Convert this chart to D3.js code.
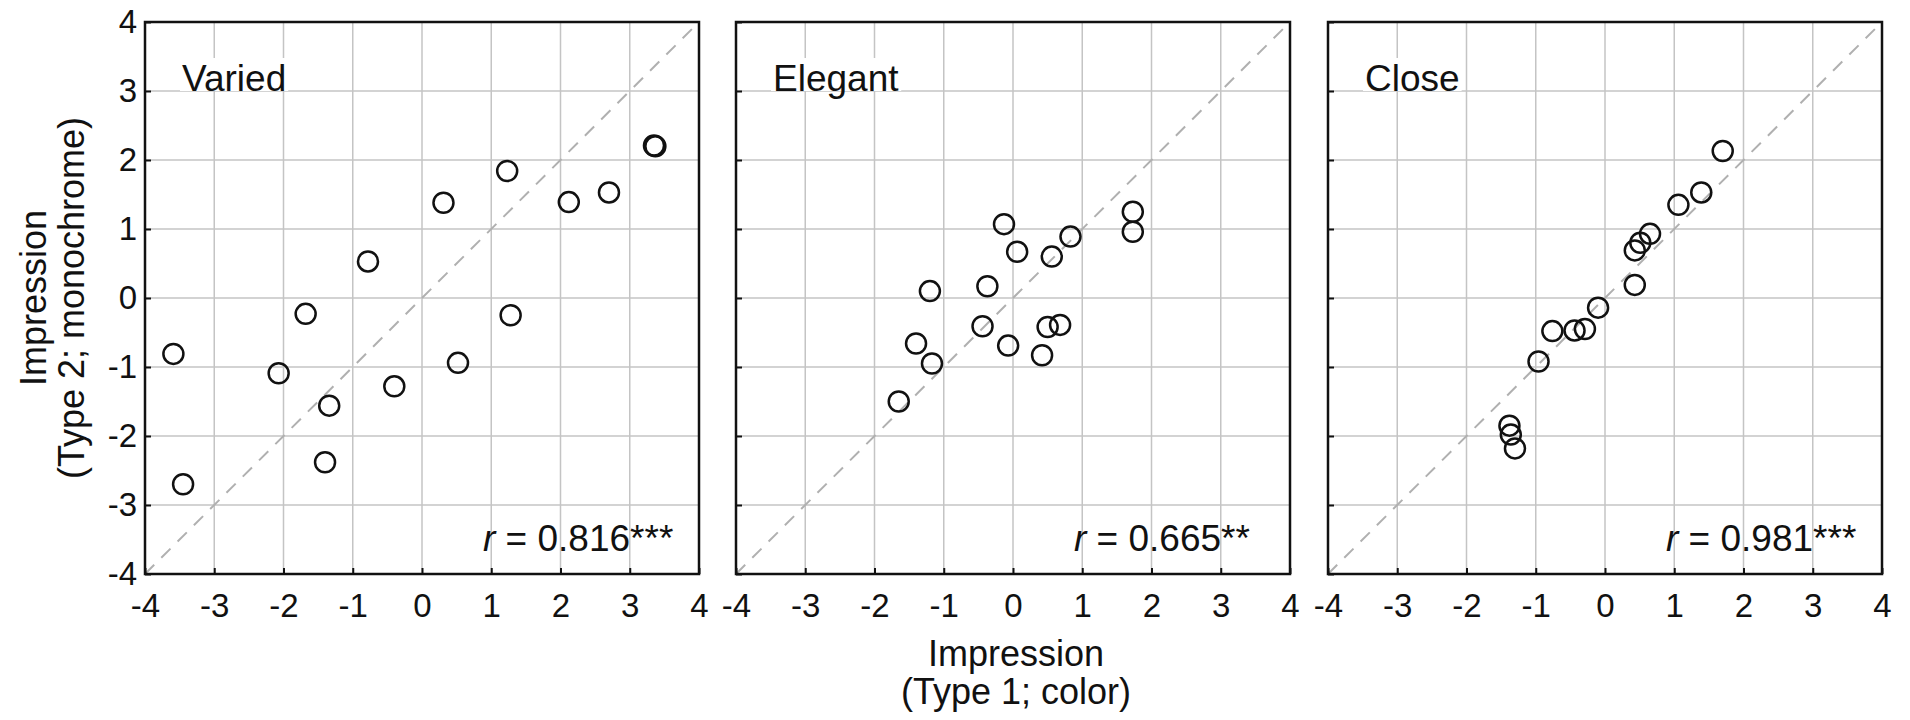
<html>
<head>
<style>
  body { margin: 0; background: #fff; }
  text { font-family: "Liberation Sans", Arial, sans-serif; fill: #111; }
</style>
</head>
<body>
<svg id="container" width="1910" height="720"></svg>
<script src="https://cdn.jsdelivr.net/npm/d3@7"></script>
<script>
// tick labels shared by both axes
const ticks = [-4, -3, -2, -1, 0, 1, 2, 3, 4]

// panel names and correlation labels
const panelNames = ["Varied", "Elegant", "Close"]
const rValues = ["0.816***", "0.665**", "0.981***"]

// Type 1 (color) vs Type 2 (monochrome) impressions
const variedX = [-3.59, -3.45, -2.07, -1.68, -1.34, -1.40, -0.78, -0.40, 0.31, 0.52, 1.23, 1.28, 2.12, 2.70, 3.35, 3.37]
const variedY = [-0.81, -2.70, -1.09, -0.23, -1.56, -2.38, 0.53, -1.28, 1.38, -0.94, 1.84, -0.25, 1.39, 1.53, 2.21, 2.20]

const elegantX = [-1.65, -1.40, -1.17, -1.20, -0.37, -0.44, -0.13, -0.07, 0.06, 0.42, 0.56, 0.50, 0.68, 0.83, 1.73, 1.73]
const elegantY = [-1.50, -0.66, -0.95, 0.10, 0.17, -0.41, 1.07, -0.69, 0.67, -0.83, 0.60, -0.42, -0.39, 0.89, 1.25, 0.96]

const closeX = [1.70, 1.39, 1.06, 0.65, 0.51, 0.43, 0.43, -0.10, -0.29, -0.44, -0.76, -0.96, -1.38, -1.36, -1.30]
const closeY = [2.13, 1.53, 1.35, 0.93, 0.80, 0.69, 0.19, -0.14, -0.45, -0.47, -0.48, -0.92, -1.85, -1.98, -2.18]

const panelX = [variedX, elegantX, closeX]
const panelY = [variedY, elegantY, closeY]

let svg = d3.select("#container")

let panelLefts = [145, 736, 1328]
let panelW = 554
let plotTop = 22
let panelH = 552

let y = d3.scaleLinear().domain([-4, 4]).range([plotTop + panelH, plotTop])

panelLefts.forEach((left, i) => {
    let x = d3.scaleLinear().domain([-4, 4]).range([left, left + panelW])
    let g = svg.append("g")

    // grid
    g.selectAll(".vgrid").data(ticks.slice(1, -1)).enter().append("line")
        .attr("x1", d => x(d)).attr("x2", d => x(d))
        .attr("y1", plotTop).attr("y2", plotTop + panelH)
        .attr("stroke", "#c4c4c4").attr("stroke-width", 1.5)
    g.selectAll(".hgrid").data(ticks.slice(1, -1)).enter().append("line")
        .attr("x1", left).attr("x2", left + panelW)
        .attr("y1", d => y(d)).attr("y2", d => y(d))
        .attr("stroke", "#c4c4c4").attr("stroke-width", 1.5)

    // identity line
    g.append("line")
        .attr("x1", x(-4)).attr("y1", y(-4))
        .attr("x2", x(4)).attr("y2", y(4))
        .attr("stroke", "#b0b0b0").attr("stroke-width", 2)
        .attr("stroke-dasharray", "13,10")

    // panel name with white box hiding the grid
    let label = g.append("text")
        .attr("x", left + 37).attr("y", y(3))
        .style("font-size", "37px")
        .text(panelNames[i])
    let bb = label.node().getBBox()
    g.insert("rect", "text")
        .attr("x", bb.x - 2).attr("y", bb.y)
        .attr("width", bb.width + 4).attr("height", y(3) - bb.y)
        .attr("fill", "#fff")

    // points
    g.selectAll("circle").data(panelX[i]).enter().append("circle")
        .attr("cx", d => x(d))
        .attr("cy", (d, j) => y(panelY[i][j]))
        .attr("r", 10)
        .attr("fill", "none")
        .attr("stroke", "#111")
        .attr("stroke-width", 2.5)

    // correlation text
    let rt = g.append("text")
        .attr("x", left + 338).attr("y", plotTop + panelH - 23)
        .style("font-size", "37px")
    rt.append("tspan").style("font-style", "italic").text("r")
    rt.append("tspan").text(" = " + rValues[i])

    // axes with inner ticks
    let xAxis = d3.axisBottom(x).tickValues(ticks).tickSize(-6).tickPadding(20)
        .tickFormat(d => String(d))
    let xg = g.append("g").attr("transform", "translate(0," + (plotTop + panelH) + ")").call(xAxis)
    xg.select(".domain").remove()
    xg.selectAll("line").attr("stroke", "#111").attr("stroke-width", 2)
    xg.selectAll("text").style("font-size", "33px").attr("fill", "#111")

    let yAxis = d3.axisLeft(y).tickValues(ticks).tickSize(-6).tickPadding(8)
        .tickFormat(d => i == 0 ? String(d) : "")
    let yg = g.append("g").attr("transform", "translate(" + left + ",0)").call(yAxis)
    yg.select(".domain").remove()
    yg.selectAll("line").attr("stroke", "#111").attr("stroke-width", 2)
    yg.selectAll("text").style("font-size", "33px").attr("fill", "#111")

    // frame
    g.append("rect")
        .attr("x", left).attr("y", plotTop)
        .attr("width", panelW).attr("height", panelH)
        .attr("fill", "none").attr("stroke", "#111").attr("stroke-width", 2.5)
})

// y axis title
let yt = svg.append("text")
    .attr("transform", "translate(46," + (plotTop + panelH / 2) + ") rotate(-90)")
    .attr("text-anchor", "middle")
    .style("font-size", "36px")
yt.append("tspan").attr("x", 0).attr("y", 0).text("Impression")
yt.append("tspan").attr("x", 0).attr("y", 38).text("(Type 2; monochrome)")

// x axis title
let xt = svg.append("text")
    .attr("text-anchor", "middle")
    .style("font-size", "36px")
xt.append("tspan").attr("x", 1016).attr("y", 666).text("Impression")
xt.append("tspan").attr("x", 1016).attr("y", 704).text("(Type 1; color)")
</script>
</body>
</html>
